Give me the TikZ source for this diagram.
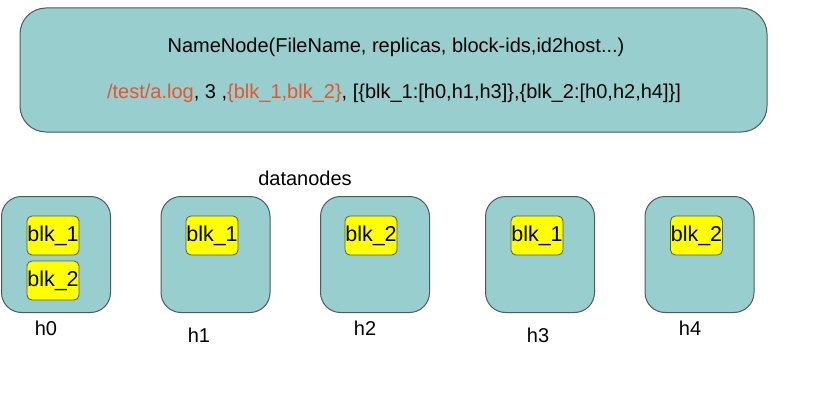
\documentclass[tikz,border=0pt]{standalone}
\usepackage{fontspec}
\setmainfont{Liberation Sans}
\definecolor{tealbox}{RGB}{153,206,206}
\definecolor{edgegray}{RGB}{80,90,90}
\definecolor{blkyellow}{RGB}{255,255,0}
\definecolor{hlred}{RGB}{232,84,44}
\begin{document}
\begin{tikzpicture}[x=1pt,y=-1pt,
  txt/.style={font=\fontsize{20}{24}\selectfont, inner sep=0pt},
  namebox/.style={draw=edgegray, line width=1pt, fill=tealbox, rounded corners=26pt,
    minimum width=747pt, minimum height=124pt},
  dnbox/.style={draw=edgegray, line width=1pt, fill=tealbox, rounded corners=20pt,
    minimum width=109pt, minimum height=116pt},
  blkbox/.style={draw=edgegray, line width=0.8pt, fill=blkyellow, rounded corners=5pt,
    minimum width=52pt, minimum height=39pt, inner sep=0pt,
    font=\fontsize{21.5}{24}\selectfont},
  hl/.style={txt}
]
\useasboundingbox (0,0) rectangle (825,412);
\fill[white] (0,0) rectangle (825,412);

\node[namebox] (nn) at (393.5,70) {};
\node[hl] (nt1) at (396,47.5) {NameNode(FileName, replicas, block-ids,id2host...)};
\node[hl] (nt2) at (394,93) {\textcolor{hlred}{/test/a.log}, 3 ,\textcolor{hlred}{\{blk\_1,blk\_2\}}, [\{blk\_1:[h0,h1,h3]\},\{blk\_2:[h0,h2,h4]\}]};

\node[hl] (dl) at (305,178) {datanodes};

\node[dnbox] (h0) at (56,254.5) {};
\node[dnbox] (h1) at (215.5,254.5) {};
\node[dnbox] (h2) at (375,254.5) {};
\node[dnbox] (h3) at (540,254.5) {};
\node[dnbox] (h4) at (699.5,254.5) {};

\node[blkbox] (b01) at (53,235.5) {blk\_1};
\node[blkbox] (b02) at (53,280.5) {blk\_2};
\node[blkbox] (b11) at (212,235.5) {blk\_1};
\node[blkbox] (b22) at (371,235.5) {blk\_2};
\node[blkbox] (b31) at (537,235.5) {blk\_1};
\node[blkbox] (b42) at (696.5,235.5) {blk\_2};

\node[hl] (l0) at (46,328) {h0};
\node[hl] (l1) at (199,335) {h1};
\node[hl] (l2) at (365,328) {h2};
\node[hl] (l3) at (538,335) {h3};
\node[hl] (l4) at (690,328) {h4};
\end{tikzpicture}
\end{document}
